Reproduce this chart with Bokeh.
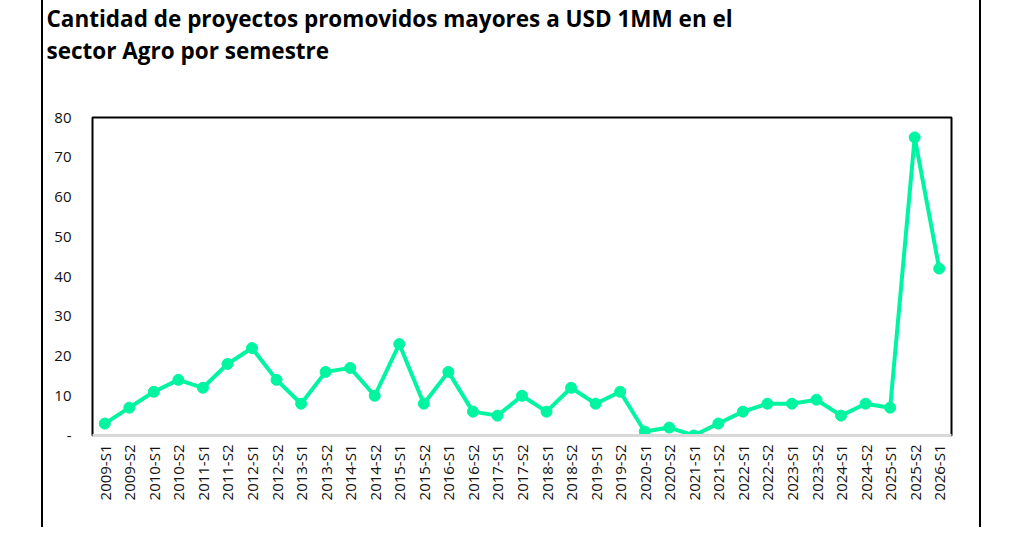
from bokeh.plotting import figure
from bokeh.models import FactorRange, Range1d, Title
from bokeh.embed import file_html
from bokeh.resources import INLINE
import math

# semestres y cantidad de proyectos
semestres = ["2009-S1", "2009-S2", "2010-S1", "2010-S2", "2011-S1", "2011-S2",
             "2012-S1", "2012-S2", "2013-S1", "2013-S2", "2014-S1", "2014-S2",
             "2015-S1", "2015-S2", "2016-S1", "2016-S2", "2017-S1", "2017-S2",
             "2018-S1", "2018-S2", "2019-S1", "2019-S2", "2020-S1", "2020-S2",
             "2021-S1", "2021-S2", "2022-S1", "2022-S2", "2023-S1", "2023-S2",
             "2024-S1", "2024-S2", "2025-S1", "2025-S2", "2026-S1"]
proyectos = [3, 7, 11, 14, 12, 18, 22, 14, 8, 16, 17, 10, 23, 8, 16, 6, 5, 10,
             6, 12, 8, 11, 1, 2, 0, 3, 6, 8, 8, 9, 5, 8, 7, 75, 42]
y_ticks = [0, 10, 20, 30, 40, 50, 60, 70, 80]

titulo = ["Cantidad de proyectos promovidos mayores a USD 1MM en el",
          "sector Agro por semestre"]
verde = "#00F5A0"
fuente = "Open Sans"

p = figure(width=940, height=527, x_range=FactorRange(*semestres),
           y_range=Range1d(0, 80), output_backend="svg", toolbar_location=None,
           min_border_left=49, min_border_right=32, min_border_top=117,
           min_border_bottom=92, title=None)
p.margin = (0, 0, 0, 41)
p.styles = {"border-left": "2px solid black", "border-right": "2px solid black"}

# titulo en dos lineas; standoff negativo: los paneles quedan en 0 y
# cada linea se ubica desde el borde superior del marco
for linea, sep in [(titulo[1], -165), (titulo[0], -229)]:
    p.add_layout(Title(text=linea, align="left", offset=-46, standoff=sep,
                       vertical_align="top",
                       text_font=fuente, text_font_size="22.5px",
                       text_font_style="bold", text_color="black"), "above")

p.line(semestres, proyectos, line_color=verde, line_width=4)
p.scatter(semestres, proyectos, size=11, fill_color=verde, line_color=verde)

p.outline_line_color = "black"
p.outline_line_width = 2
p.xgrid.grid_line_color = None
p.ygrid.grid_line_color = None

p.yaxis.ticker = y_ticks
p.yaxis.major_label_overrides = {0: "-"}
p.yaxis.axis_line_color = None
p.yaxis.major_tick_line_color = None
p.yaxis.minor_tick_line_color = None
p.yaxis.major_label_standoff = 15
p.yaxis.major_label_text_font = fuente
p.yaxis.major_label_text_font_size = "15px"
p.yaxis.major_label_text_color = "#111111"

p.xaxis.axis_line_color = "#d9d9d9"
p.xaxis.axis_line_width = 3
p.xaxis.major_tick_line_color = None
p.xaxis.major_label_orientation = math.pi / 2
p.xaxis.major_label_standoff = 3
p.xaxis.major_label_text_font = fuente
p.xaxis.major_label_text_font_size = "15px"
p.xaxis.major_label_text_color = "#111111"

open("out.html", "w").write(file_html(p, INLINE))
